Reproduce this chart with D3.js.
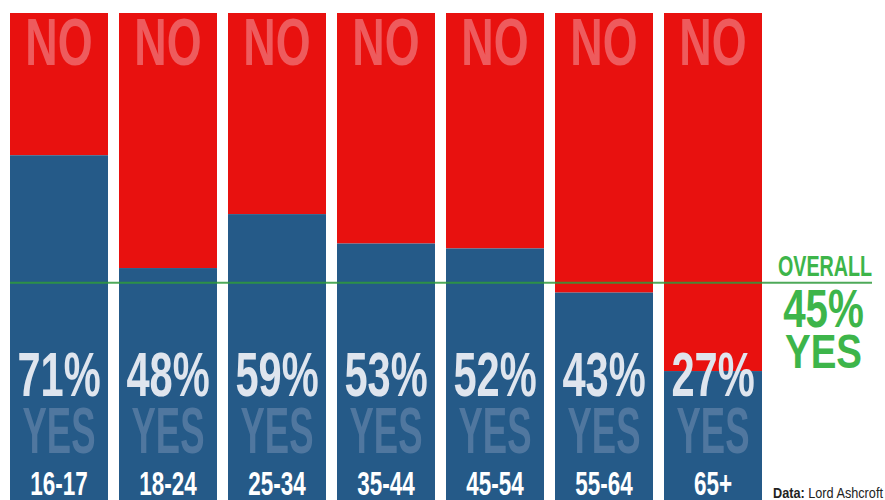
<!DOCTYPE html>
<html>
<head>
<meta charset="utf-8">
<script src="https://cdn.jsdelivr.net/npm/d3@7"></script>
<style>
  html, body { margin: 0; padding: 0; background: #fff; }
  svg { display: block; }
  text { font-family: "Liberation Sans", Arial, sans-serif; font-weight: bold; }
</style>
</head>
<body>
<svg id="chart" width="885" height="500"></svg>
<script>
// ---- data ----
const categories = ["16-17", "18-24", "25-34", "35-44", "45-54", "55-64", "65+"];
const yesValues = [71, 48, 59, 53, 52, 43, 27];
const overallYes = 45;
const noLabel = "NO";
const yesLabel = "YES";
const overallLabel = "OVERALL";
const sourceBold = "Data:";
const sourceText = " Lord Ashcroft";

// ---- setup ----
const W = 885, H = 500;
const svg = d3.select("#chart");

const x = d3.scaleBand()
  .domain(categories)
  .range([10, 762])
  .paddingInner(0.101)
  .paddingOuter(0);

const y = d3.scaleLinear().domain([0, 100]).range([503.5, 13]);

const RED = "#e8110f", BLUE = "#255a88";

// helper: horizontally condensed centered text
function ctext(g, cx, by, str, size, sx, fill) {
  return g.append("text")
    .attr("transform", `translate(${cx},${by}) scale(${sx},1)`)
    .attr("text-anchor", "middle")
    .attr("font-size", size)
    .attr("fill", fill)
    .text(str);
}

const bars = svg.selectAll("g.bar")
  .data(categories.map((c, i) => ({ cat: c, yes: yesValues[i] })))
  .join("g").attr("class", "bar");

// NO (red) part
bars.append("rect")
  .attr("x", d => x(d.cat))
  .attr("width", x.bandwidth())
  .attr("y", y(100))
  .attr("height", d => y(d.yes) - y(100))
  .attr("fill", RED);

// YES (blue) part
bars.append("rect")
  .attr("x", d => x(d.cat))
  .attr("width", x.bandwidth())
  .attr("y", d => y(d.yes))
  .attr("height", d => y(0) - y(d.yes))
  .attr("fill", BLUE);

bars.each(function(d) {
  const g = d3.select(this);
  const cx = x(d.cat) + x.bandwidth() / 2;
  ctext(g, cx, 65, noLabel, 66, 0.68, "#ee5b5d");
  ctext(g, cx, 396, d.yes + "%", 63, 0.66, "#dfe5ee");
  ctext(g, cx, 452.5, yesLabel, 64, 0.57, "#50779f");
  ctext(g, cx, 495, d.cat, 34, 0.66, "#ffffff");
});

// overall line
svg.append("line")
  .attr("x1", x(categories[0]))
  .attr("x2", 872)
  .attr("y1", y(overallYes))
  .attr("y2", y(overallYes))
  .attr("stroke", "#2f9a3c")
  .attr("stroke-width", 2)
  .attr("stroke-opacity", 0.85);

const GREEN = "#3db54a";
const ov = svg.append("g");
ctext(ov, 825, 276, overallLabel, 29, 0.68, GREEN);
ctext(ov, 823.5, 327, overallYes + "%", 54.5, 0.74, GREEN);
ctext(ov, 823.5, 368, yesLabel, 47.5, 0.81, GREEN);

// source (fit to available width at right)
const src = svg.append("text")
  .attr("font-size", 15.5)
  .attr("fill", "#222");
src.append("tspan").attr("font-weight", "bold").text(sourceBold);
src.append("tspan").attr("font-weight", "normal").text(sourceText);
const srcLen = src.node().getComputedTextLength();
const srcX = 773, srcAvail = W - srcX - 2;
src.attr("transform", `translate(${srcX},497.5) scale(${Math.min(1, srcAvail / srcLen)},1)`);
</script>
</body>
</html>
